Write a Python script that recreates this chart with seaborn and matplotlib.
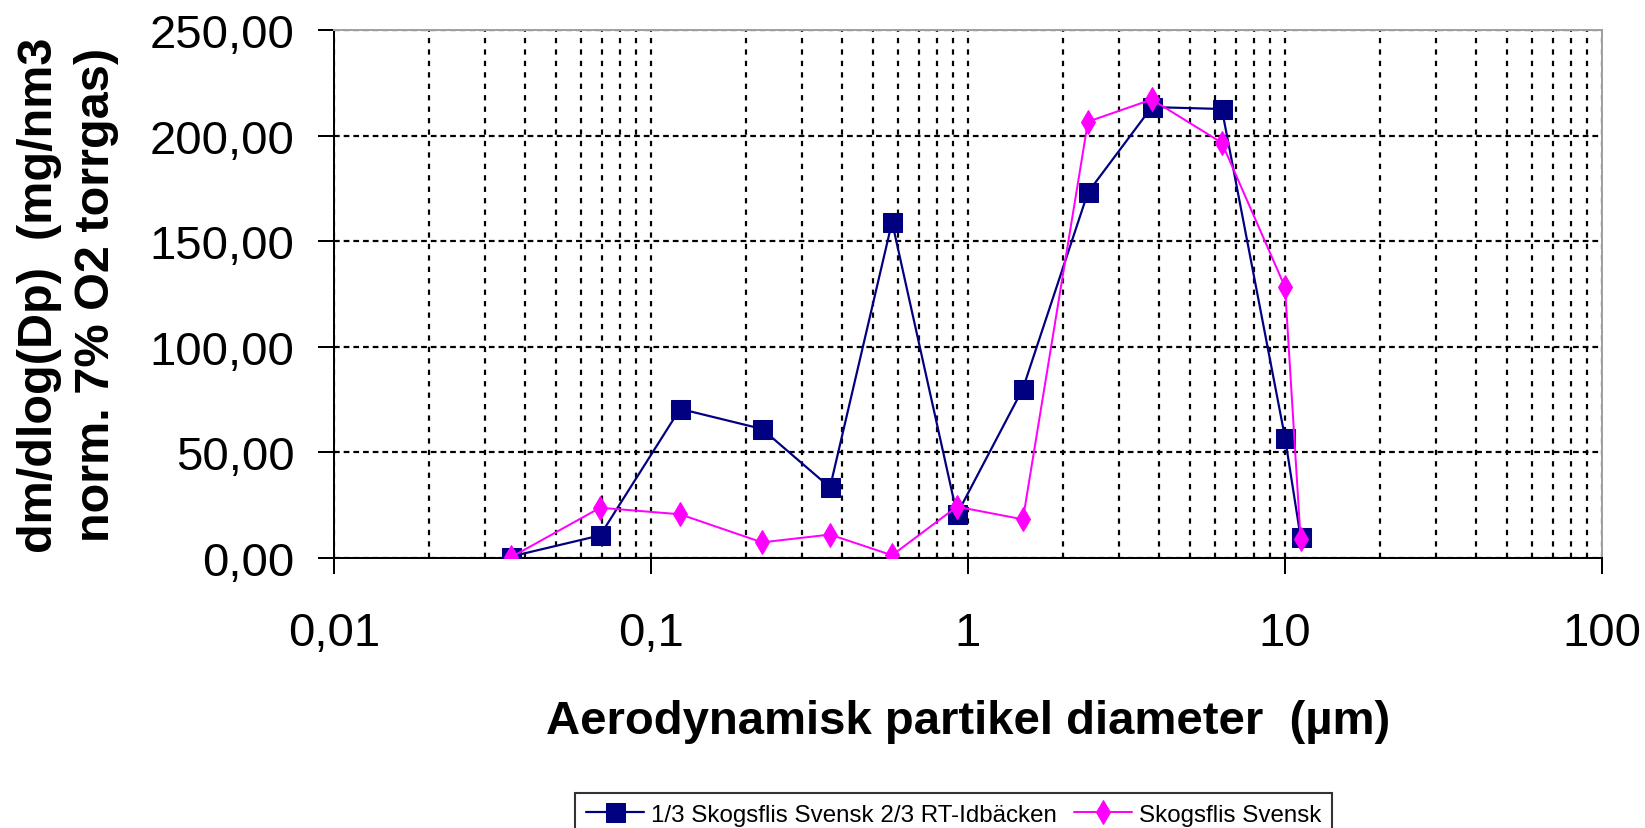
import numpy as np
import pandas as pd
import matplotlib
matplotlib.use("Agg")
import matplotlib.pyplot as plt
from matplotlib.ticker import FixedLocator, FuncFormatter, LogLocator, NullFormatter
import seaborn as sns

# ---- data ----
diameter_um = [0.0362, 0.0691, 0.1235, 0.224, 0.367, 0.576, 0.923, 1.49, 2.39, 3.80, 6.32, 10.0, 11.2]
mix_values = [0.7, 10.7, 70.6, 61.1, 33.4, 159.1, 20.7, 80.2, 173.1, 213.5, 212.6, 57.0, 9.8]
svensk_values = [0.4, 23.8, 20.7, 7.4, 11.1, 1.3, 24.3, 18.3, 206.6, 217.1, 196.6, 128.3, 8.9]
series_names = ["1/3 Skogsflis Svensk 2/3 RT-Idbäcken", "Skogsflis Svensk"]
y_ticks = [0, 50, 100, 150, 200, 250]
x_ticks = [0.01, 0.1, 1, 10, 100]
x_label = "Aerodynamisk partikel diameter  (µm)"
y_label = "dm/dlog(Dp)  (mg/nm3\nnorm. 7% O2 torrgas)"

sns.set_style("white")
plt.rcParams["font.family"] = ["Liberation Sans", "DejaVu Sans"]
plt.rcParams["text.color"] = "black"
plt.rcParams["axes.labelcolor"] = "black"
plt.rcParams["xtick.color"] = "black"
plt.rcParams["ytick.color"] = "black"

W, H = 1645, 829
fig = plt.figure(figsize=(W / 100, H / 100), dpi=100)
L, R, T, B = 334, 1602, 31, 559
ax = fig.add_axes([L / W, 1 - B / H, (R - L) / W, (B - T) / H])

px = 0.72  # points per pixel

df_mix = pd.DataFrame({"d": diameter_um, "v": mix_values})
df_sv = pd.DataFrame({"d": diameter_um, "v": svensk_values})

sns.lineplot(data=df_mix, x="d", y="v", ax=ax, color="#000080", marker="s",
             markersize=19 * px, markeredgecolor="#000080", linewidth=2.2 * px,
             label=series_names[0], estimator=None, sort=False, zorder=4)
sns.lineplot(data=df_sv, x="d", y="v", ax=ax, color="#FF00FF", marker="d",
             markersize=17 * px, markeredgecolor="#FF00FF", linewidth=2 * px,
             label=series_names[1], estimator=None, sort=False, zorder=5)

ax.set_xscale("log")
ax.set_xlim(0.01, 100)
ax.set_ylim(0, 250)

ax.xaxis.set_major_locator(FixedLocator(x_ticks))
ax.xaxis.set_minor_locator(LogLocator(base=10, subs=np.arange(2, 10), numticks=20))
ax.xaxis.set_minor_formatter(NullFormatter())
ax.xaxis.set_major_formatter(FuncFormatter(lambda v, p: ("%g" % v).replace(".", ",")))
ax.yaxis.set_major_locator(FixedLocator(y_ticks))
ax.yaxis.set_major_formatter(FuncFormatter(lambda v, p: ("%.2f" % v).replace(".", ",")))

# grid
ax.xaxis.grid(True, which="both", color="black", linewidth=2.2 * px,
              linestyle=(0, (2.4, 2.8)))
ax.yaxis.grid(True, which="major", color="black", linewidth=2.2 * px,
              linestyle=(0, (2.6, 1.8)))
ax.set_axisbelow(True)

# spines
for s in ["left", "bottom"]:
    ax.spines[s].set_color("black")
    ax.spines[s].set_linewidth(2 * px)
for s in ["top", "right"]:
    ax.spines[s].set_color("#a0a0a0")
    ax.spines[s].set_linewidth(2 * px)
    ax.spines[s].set_visible(True)

ax.tick_params(axis="y", which="major", direction="out", length=16 * px,
               width=2 * px, color="black", labelsize=34, pad=17, left=True,
               labelcolor="black")
ax.tick_params(axis="x", which="major", direction="out", length=16 * px,
               width=2 * px, color="black", labelsize=34, pad=27, bottom=True,
               labelcolor="black")
ax.tick_params(axis="x", which="minor", length=0)

ax.set_xlabel(x_label, fontsize=34, fontweight="bold", color="black")
ax.xaxis.set_label_coords(0.5, (B - 722) / (B - T))
ax.xaxis.label.set_va("center")
ax.set_ylabel(y_label, fontsize=35, fontweight="bold", linespacing=1.32, color="black")
ax.yaxis.set_label_coords((68 - L) / (R - L), 0.5)
ax.yaxis.label.set_va("center")

ax.get_legend().remove()
handles, labels = ax.get_legend_handles_labels()
leg = fig.legend(handles, labels, loc="upper left",
                 bbox_to_anchor=(575 / W, 1 - 794 / H), ncol=2,
                 prop={"size": 17.4}, frameon=True, fancybox=False, shadow=False,
                 edgecolor="black", handlelength=2.4, handletextpad=0.3,
                 columnspacing=0.7, borderpad=0.45, borderaxespad=0)
leg.get_frame().set_linewidth(1.5)
for t in leg.get_texts():
    t.set_color("black")

fig.savefig("out.png", dpi=100, facecolor="white")
